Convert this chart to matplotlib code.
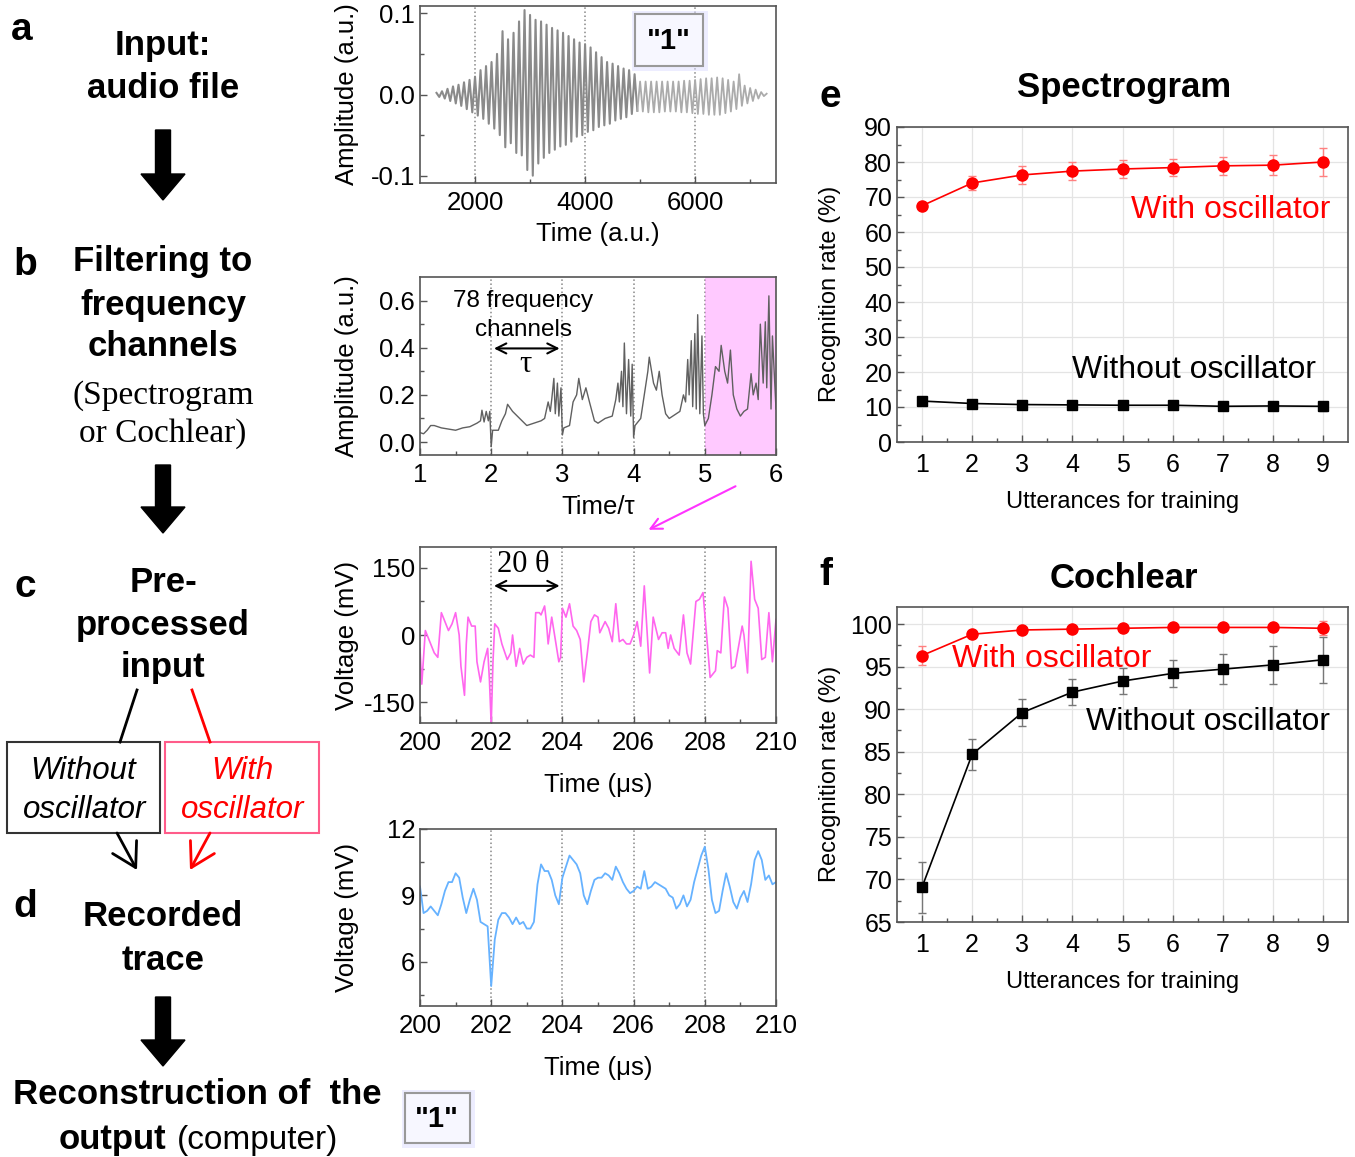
import numpy as np
import matplotlib
matplotlib.use("Agg")
import matplotlib.pyplot as plt
from matplotlib.patches import Rectangle, FancyArrow

plt.rcParams['font.family'] = ['Liberation Sans', 'DejaVu Sans']
plt.rcParams['axes.unicode_minus'] = False

# ---- data ----
# a: audio waveform, alternating peaks every 50 a.u. from 1300 to 7300
audio_amp = [0.002, -0.003, 0.004, -0.005, 0.007, -0.008, 0.010, -0.011, 0.012, -0.014,
             0.015, -0.018, 0.018, -0.022, 0.022, -0.026, 0.030, -0.030, 0.035, -0.036,
             0.040, -0.042, 0.050, -0.050, 0.078, -0.065, 0.068, -0.060, 0.076, -0.072,
             0.090, -0.075, 0.104, -0.093, 0.098, -0.100, 0.092, -0.085, 0.090, -0.078,
             0.086, -0.072, 0.082, -0.068, 0.079, -0.064, 0.076, -0.062, 0.072, -0.058,
             0.068, -0.052, 0.064, -0.050, 0.062, -0.046, 0.058, -0.044, 0.052, -0.040,
             0.046, -0.038, 0.040, -0.036, 0.038, -0.032, 0.035, -0.030, 0.032, -0.028,
             0.030, -0.024, 0.025, -0.020, 0.016, -0.021, 0.016, -0.022, 0.016, -0.022,
             0.016, -0.022, 0.016, -0.021, 0.016, -0.021, 0.016, -0.021, 0.016, -0.022,
             0.017, -0.022, 0.017, -0.023, 0.018, -0.024, 0.019, -0.024, 0.020, -0.025,
             0.020, -0.025, 0.021, -0.025, 0.020, -0.023, 0.018, -0.021, 0.016, -0.018,
             0.025, -0.014, 0.011, -0.011, 0.008, -0.008, 0.006, -0.005, 0.003, -0.002,
             0.001]
audio_time = np.linspace(1300, 7300, len(audio_amp))

# b: filtered frequency channels
filt_t = [1.00, 1.05, 1.10, 1.15, 1.20, 1.30, 1.40, 1.50, 1.60, 1.70, 1.80, 1.85, 1.87, 1.90,
          1.93, 1.96, 1.98, 2.00, 2.02, 2.10, 2.15, 2.20, 2.23, 2.30, 2.40, 2.50, 2.60, 2.70,
          2.75, 2.80, 2.83, 2.85, 2.88, 2.90, 2.93, 2.95, 2.98, 3.00, 3.02, 3.10, 3.15, 3.20,
          3.23, 3.28, 3.33, 3.38, 3.45, 3.50, 3.60, 3.70, 3.75, 3.78, 3.80, 3.83, 3.85, 3.87,
          3.90, 3.93, 3.96, 3.98, 4.00, 4.02, 4.10, 4.15, 4.20, 4.22, 4.28, 4.32, 4.36, 4.40,
          4.45, 4.50, 4.60, 4.65, 4.70, 4.73, 4.76, 4.78, 4.81, 4.83, 4.86, 4.88, 4.90, 4.93,
          4.96, 4.98, 5.00, 5.05, 5.10, 5.15, 5.20, 5.23, 5.28, 5.32, 5.36, 5.40, 5.45, 5.50,
          5.55, 5.60, 5.65, 5.68, 5.72, 5.75, 5.78, 5.82, 5.85, 5.87, 5.90, 5.93, 5.95, 6.00]
filt_v = [0.04, 0.035, 0.05, 0.07, 0.07, 0.06, 0.055, 0.05, 0.06, 0.065, 0.08, 0.09, 0.135, 0.085,
          0.13, 0.09, 0.13, -0.02, 0.05, 0.05, 0.09, 0.12, 0.16, 0.13, 0.10, 0.07, 0.08, 0.09,
          0.10, 0.17, 0.13, 0.18, 0.27, 0.12, 0.25, 0.11, 0.23, 0.03, 0.06, 0.07, 0.17, 0.20,
          0.27, 0.18, 0.23, 0.17, 0.09, 0.08, 0.10, 0.11, 0.18, 0.25, 0.17, 0.30, 0.15, 0.42,
          0.12, 0.35, 0.11, 0.33, 0.02, 0.07, 0.10, 0.20, 0.30, 0.36, 0.25, 0.22, 0.30, 0.20,
          0.12, 0.10, 0.12, 0.13, 0.20, 0.17, 0.35, 0.20, 0.43, 0.15, 0.46, 0.14, 0.54, 0.12,
          0.45, 0.12, 0.07, 0.10, 0.20, 0.32, 0.30, 0.41, 0.30, 0.25, 0.39, 0.20, 0.14, 0.11,
          0.13, 0.14, 0.29, 0.20, 0.25, 0.18, 0.50, 0.25, 0.51, 0.23, 0.62, 0.14, 0.45, 0.14]

# c: pre-processed input voltage
mag_t = [200.0, 200.05, 200.15, 200.25, 200.4, 200.5, 200.6, 200.7, 200.8, 200.9, 201.0, 201.1,
         201.15, 201.25, 201.3, 201.35, 201.45, 201.55, 201.6, 201.7, 201.8, 201.9, 201.95, 202.0,
         202.05, 202.1, 202.2, 202.3, 202.45, 202.55, 202.6, 202.7, 202.8, 202.9, 203.0, 203.1,
         203.2, 203.25, 203.35, 203.4, 203.5, 203.55, 203.6, 203.7, 203.8, 203.9, 203.95, 204.0,
         204.1, 204.2, 204.3, 204.4, 204.5, 204.6, 204.7, 204.8, 204.9, 205.0, 205.05, 205.2,
         205.3, 205.4, 205.5, 205.6, 205.7, 205.8, 205.9, 206.0, 206.1, 206.2, 206.3, 206.4,
         206.45, 206.55, 206.7, 206.8, 206.9, 206.97, 207.04, 207.14, 207.28, 207.4, 207.5, 207.6,
         207.75, 207.85, 207.95, 208.15, 208.3, 208.35, 208.45, 208.55, 208.65, 208.75, 208.85,
         209.05, 209.1, 209.2, 209.3, 209.4, 209.5, 209.6, 209.7, 209.8, 209.9, 210.0]
mag_mv = [-30, -110, 10, -10, -40, -50, 50, 30, 10, 25, 50, 0,
          -70, -135, -20, 40, 20, 20, -60, -105, -60, -30, -100, -200,
          -60, 25, 15, -20, -55, -40, 0, -70, -30, -65, -50, -45,
          -50, 50, 50, 45, 65, 30, -20, 40, -10, -60, -50, 60,
          40, 70, 20, 10, -10, -105, -40, 30, 45, 40, 5, 30,
          15, -15, 70, -15, -10, -20, -20, 0, 30, -25, 110, -20,
          -85, 40, -10, 5, 5, -30, 0, -30, -45, 45, -40, -65,
          75, 80, 95, -95, -80, -35, -40, 85, 60, -75, -70,
          20, 0, -85, 165, 80, 60, -55, -50, 50, -60, 35]

# d: recorded trace, sampled every 0.1 us from 200 to 210
blue_mv = [9.4, 8.2, 8.3, 8.5, 8.3, 8.1, 8.6, 9.2, 9.6, 9.6,
           10.0, 9.8, 8.9, 8.2, 8.8, 9.3, 8.8, 7.8, 7.7, 7.6,
           4.9, 7.0, 7.9, 8.2, 8.2, 8.0, 7.7, 8.0, 7.7, 7.8,
           7.5, 7.5, 7.8, 9.5, 10.4, 10.1, 10.1, 9.7, 9.0, 8.6,
           9.8, 10.3, 10.8, 10.6, 10.4, 10.0, 9.0, 8.6, 9.2, 9.7,
           9.8, 9.8, 10.0, 9.9, 9.7, 10.3, 10.0, 9.6, 9.3, 9.1,
           9.2, 9.4, 9.3, 10.1, 9.3, 9.4, 9.6, 9.5, 9.4, 9.3,
           9.0, 8.9, 8.4, 8.6, 9.0, 8.5, 8.8, 9.6, 10.2, 10.8,
           11.2, 10.2, 8.8, 8.2, 8.3, 9.2, 10.0, 9.4, 8.7, 8.4,
           8.9, 9.2, 8.7, 9.5, 10.6, 11.0, 10.6, 9.7, 9.9, 9.5,
           9.6]
blue_t = np.linspace(200, 210, len(blue_mv))

# e, f: recognition rates
utterances = [1, 2, 3, 4, 5, 6, 7, 8, 9]
spec_with = [67.5, 74.0, 76.3, 77.4, 78.0, 78.4, 78.9, 79.1, 80.0]
spec_with_err = [1.0, 2.0, 2.5, 2.5, 2.5, 2.5, 2.5, 2.8, 4.0]
spec_without = [11.7, 11.0, 10.7, 10.6, 10.5, 10.5, 10.2, 10.3, 10.2]
spec_without_err = [1.0, 0.8, 0.8, 0.8, 0.8, 0.9, 1.0, 1.2, 1.2]
coch_with = [96.3, 98.8, 99.3, 99.4, 99.5, 99.6, 99.6, 99.6, 99.5]
coch_with_err = [1.1, 0.3, 0.3, 0.3, 0.3, 0.3, 0.3, 0.4, 0.8]
coch_without = [69.1, 84.7, 89.6, 92.0, 93.3, 94.2, 94.7, 95.2, 95.8]
coch_without_err = [3.0, 1.8, 1.6, 1.5, 1.5, 1.6, 1.8, 2.2, 2.7]

W, H = 1355, 1157
fig = plt.figure(figsize=(W / 100, H / 100), dpi=100)


def rect(x0, y0, x1, y1):
    return [x0 / W, 1 - y1 / H, (x1 - x0) / W, (y1 - y0) / H]


def style(ax, size=18.5):
    for s in ax.spines.values():
        s.set_color('#555555')
        s.set_linewidth(1.2)
    ax.tick_params(which='both', direction='in', color='#555555', labelsize=size)
    ax.tick_params(which='major', length=5, width=1)
    ax.tick_params(which='minor', length=3, width=1)
    ax.tick_params(axis='x', pad=6)


def vlines(ax, xs):
    for x in xs:
        ax.axvline(x, color='#888888', ls=':', lw=1.1, zorder=0)


def mid_labels(ax, xl, yl):
    ax.set_xlabel(xl, fontsize=18.5)
    ax.set_ylabel(yl, fontsize=18.5)
    ax.yaxis.set_label_coords(-0.172, 0.5)


# ---- panel a: audio ----
ax1 = fig.add_axes(rect(420, 6, 776, 183))
n_dark = 74
ax1.plot(audio_time[:n_dark], audio_amp[:n_dark], color='#8a8a8a', lw=1.5)
ax1.plot(audio_time[n_dark - 1:], audio_amp[n_dark - 1:], color='#ababab', lw=1.3)
ax1.set_xlim(1000, 7470)
ax1.set_ylim(-0.109, 0.109)
ax1.set_xticks([2000, 4000, 6000])
ax1.set_xticks([3000, 5000, 7000], minor=True)
ax1.set_yticks([-0.1, 0.0, 0.1])
ax1.set_yticklabels(['-0.1', '0.0', '0.1'])
ax1.set_yticks([-0.05, 0.05], minor=True)
vlines(ax1, [2000, 4000, 6000])
style(ax1)
mid_labels(ax1, 'Time (a.u.)', 'Amplitude (a.u.)')
ax1.xaxis.set_label_coords(0.5, -0.22)

# ---- panel b: frequency channels ----
ax2 = fig.add_axes(rect(420, 277, 776, 455))
ax2.plot(filt_t, filt_v, color='#606060', lw=1.0)
ax2.axvspan(5, 6, color='#ff88ff', alpha=0.45, lw=0)
ax2.set_xlim(1, 6)
ax2.set_ylim(-0.055, 0.7)
ax2.set_xticks([1, 2, 3, 4, 5, 6])
ax2.set_xticks([1.5, 2.5, 3.5, 4.5, 5.5], minor=True)
ax2.set_yticks([0.0, 0.2, 0.4, 0.6])
ax2.set_yticklabels(['0.0', '0.2', '0.4', '0.6'])
ax2.set_yticks([0.1, 0.3, 0.5], minor=True)
vlines(ax2, [2, 3, 4, 5])
style(ax2)
mid_labels(ax2, 'Time/τ', 'Amplitude (a.u.)')
ax2.xaxis.set_label_coords(0.5, -0.225)
ax2.text(2.45, 0.6, '78 frequency', ha='center', va='center', fontsize=17.5)
ax2.text(2.45, 0.475, 'channels', ha='center', va='center', fontsize=17.5)
ax2.annotate('', xy=(2.0, 0.397), xytext=(3.0, 0.397),
             arrowprops=dict(arrowstyle='<->', color='black', lw=1.5, mutation_scale=18))
ax2.text(2.48, 0.33, 'τ', ha='center', va='center', fontsize=22, family='Liberation Serif')

# ---- panel c: pre-processed input ----
ax3 = fig.add_axes(rect(420, 547, 776, 723))
ax3.plot(mag_t, mag_mv, color='#ff66ee', lw=1.2)
ax3.set_xlim(200, 210)
ax3.set_ylim(-197, 197)
ax3.set_xticks([200, 202, 204, 206, 208, 210])
ax3.set_xticks([201, 203, 205, 207, 209], minor=True)
ax3.set_yticks([-150, 0, 150])
ax3.set_yticks([-75, 75], minor=True)
vlines(ax3, [202, 204, 206, 208])
style(ax3)
mid_labels(ax3, 'Time (μs)', 'Voltage (mV)')
ax3.xaxis.set_label_coords(0.5, -0.285)
ax3.text(202.9, 157, '20 θ', ha='center', va='center', fontsize=22, family='Liberation Serif')
ax3.annotate('', xy=(202.0, 110), xytext=(204.0, 110),
             arrowprops=dict(arrowstyle='<->', color='black', lw=1.5, mutation_scale=18))

# ---- panel d: recorded trace ----
ax4 = fig.add_axes(rect(420, 829, 776, 1006))
ax4.plot(blue_t, blue_mv, color='#66b2ff', lw=1.3)
ax4.set_xlim(200, 210)
ax4.set_ylim(4, 12)
ax4.set_xticks([200, 202, 204, 206, 208, 210])
ax4.set_xticks([201, 203, 205, 207, 209], minor=True)
ax4.set_yticks([6, 9, 12])
ax4.set_yticks([4.5, 7.5, 10.5], minor=True)
vlines(ax4, [202, 204, 206, 208])
style(ax4)
mid_labels(ax4, 'Time (μs)', 'Voltage (mV)')
ax4.xaxis.set_label_coords(0.5, -0.28)


# ---- panels e, f ----
def rate_panel(r, ylim, yt, ymin, with_v, with_e, wo_v, wo_e):
    ax = fig.add_axes(r)
    ax.grid(True, color='#e4e4e4', lw=0.9)
    ax.set_axisbelow(True)
    ax.errorbar(utterances, wo_v, yerr=wo_e, fmt='-s', color='black', ms=7.5,
                ecolor='#777777', elinewidth=1, capsize=3, lw=1.2)
    ax.errorbar(utterances, with_v, yerr=with_e, fmt='-o', color='red', ms=8,
                ecolor='#ff8080', elinewidth=1, capsize=3, lw=1.2)
    ax.set_xlim(0.5, 9.5)
    ax.set_ylim(*ylim)
    ax.set_xticks(utterances)
    ax.set_xticks([u + 0.5 for u in utterances[:-1]], minor=True)
    ax.set_yticks(yt)
    ax.set_yticks(ymin, minor=True)
    style(ax, 18)
    ax.tick_params(axis='x', pad=8)
    ax.set_xlabel('Utterances for training', fontsize=17, labelpad=10)
    ax.set_ylabel('Recognition rate (%)', fontsize=17)
    ax.yaxis.set_label_coords(-0.125, 0.47)
    return ax


axe = rate_panel(rect(897, 127, 1348, 442), (0, 90), list(range(0, 91, 10)),
                 list(range(5, 90, 10)), spec_with, spec_with_err, spec_without, spec_without_err)
axf = rate_panel(rect(897, 607, 1348, 922), (65, 102), list(range(65, 101, 5)),
                 [67.5, 72.5, 77.5, 82.5, 87.5, 92.5, 97.5], coch_with, coch_with_err,
                 coch_without, coch_without_err)

# ---- overlay in pixel coordinates for the flow chart ----
ov = fig.add_axes([0, 0, 1, 1], zorder=10)
ov.set_xlim(0, W)
ov.set_ylim(H, 0)
ov.axis('off')

bold = dict(ha='center', va='center', fontsize=25, fontweight='bold')
for lab, (x, y) in zip('abcd', [(22, 30), (25, 265), (25, 587), (25, 907)]):
    ov.text(x, y, lab, ha='center', va='center', fontsize=28, fontweight='bold')
ov.text(830, 97, 'e', ha='center', va='center', fontsize=28, fontweight='bold')
ov.text(826, 575, 'f', ha='center', va='center', fontsize=28, fontweight='bold')

ov.text(163, 46, 'Input:', **bold)
ov.text(163, 88, 'audio file', **bold)
ov.text(163, 262, 'Filtering to', **bold)
ov.text(163, 305, 'frequency', **bold)
ov.text(163, 347, 'channels', **bold)
ov.text(163, 396, '(Spectrogram', ha='center', va='center', fontsize=24, family='Liberation Serif')
ov.text(163, 434, 'or Cochlear)', ha='center', va='center', fontsize=24, family='Liberation Serif')
ov.text(163, 582, 'Pre-', **bold)
ov.text(163, 625, 'processed', **bold)
ov.text(163, 668, 'input', **bold)
ov.text(163, 917, 'Recorded', **bold)
ov.text(163, 960, 'trace', **bold)
ov.text(197, 1095, 'Reconstruction of  the', **bold)
ov.text(59, 1140, 'output', ha='left', va='center', fontsize=25, fontweight='bold')
ov.text(177, 1140, '(computer)', ha='left', va='center', fontsize=24)

for y0, y1 in [(130, 200), (465, 533), (997, 1066)]:
    ov.add_patch(FancyArrow(163, y0, 0, y1 - y0, width=15, head_width=44, head_length=26,
                            length_includes_head=True, color='black'))

# branch to the two boxes
ov.plot([137, 120], [690, 742], color='black', lw=2)
ov.plot([192, 210], [690, 742], color='red', lw=2)
ov.add_patch(Rectangle((7, 742), 153, 91, fill=False, ec='#333333', lw=1.5))
ov.add_patch(Rectangle((165, 742), 154, 91, fill=False, ec='#ff5c8a', lw=1.5))
ov.text(83, 771, 'Without', ha='center', va='center', fontsize=22.5, style='italic')
ov.text(85, 810, 'oscillator', ha='center', va='center', fontsize=22.5, style='italic')
ov.text(242, 771, 'With', ha='center', va='center', fontsize=22.5, style='italic', color='red')
ov.text(243, 810, 'oscillator', ha='center', va='center', fontsize=22.5, style='italic', color='red')
ov.annotate('', xy=(137, 870), xytext=(117, 833),
            arrowprops=dict(arrowstyle='->,head_length=0.6,head_width=0.35', color='black',
                            lw=2, mutation_scale=28, shrinkA=0, shrinkB=0))
ov.annotate('', xy=(190, 870), xytext=(210, 833),
            arrowprops=dict(arrowstyle='->,head_length=0.6,head_width=0.35', color='red',
                            lw=2, mutation_scale=28, shrinkA=0, shrinkB=0))

# magenta pointer from shaded window to panel c
ov.annotate('', xy=(646, 531), xytext=(738, 485),
            arrowprops=dict(arrowstyle='->', color='#ff33ff', lw=1.5, mutation_scale=20))

# "1" boxes
for cx, cy, w, h in [(669, 40, 68, 52), (437, 1118, 65, 50)]:
    ov.add_patch(Rectangle((cx - w / 2 - 3, cy - h / 2 - 3), w + 8, h + 8, fc='#dcdcff',
                           ec='none', alpha=0.5))
    ov.add_patch(Rectangle((cx - w / 2, cy - h / 2), w, h, fc='#f7f7ff', ec='#999999', lw=1.5))
    ov.text(cx, cy + 1, '"1"', ha='center', va='center', fontsize=21, fontweight='bold')

# e/f titles and series labels
ov.text(1124, 88, 'Spectrogram', ha='center', va='center', fontsize=25, fontweight='bold')
ov.text(1124, 578, 'Cochlear', ha='center', va='center', fontsize=25, fontweight='bold')
ov.text(1330, 210, 'With oscillator', ha='right', va='center', fontsize=23, color='red')
ov.text(1316, 370, 'Without oscillator', ha='right', va='center', fontsize=23)
ov.text(952, 659, 'With oscillator', ha='left', va='center', fontsize=23, color='red')
ov.text(1330, 722, 'Without oscillator', ha='right', va='center', fontsize=23)

fig.savefig('out.png', dpi=100)
